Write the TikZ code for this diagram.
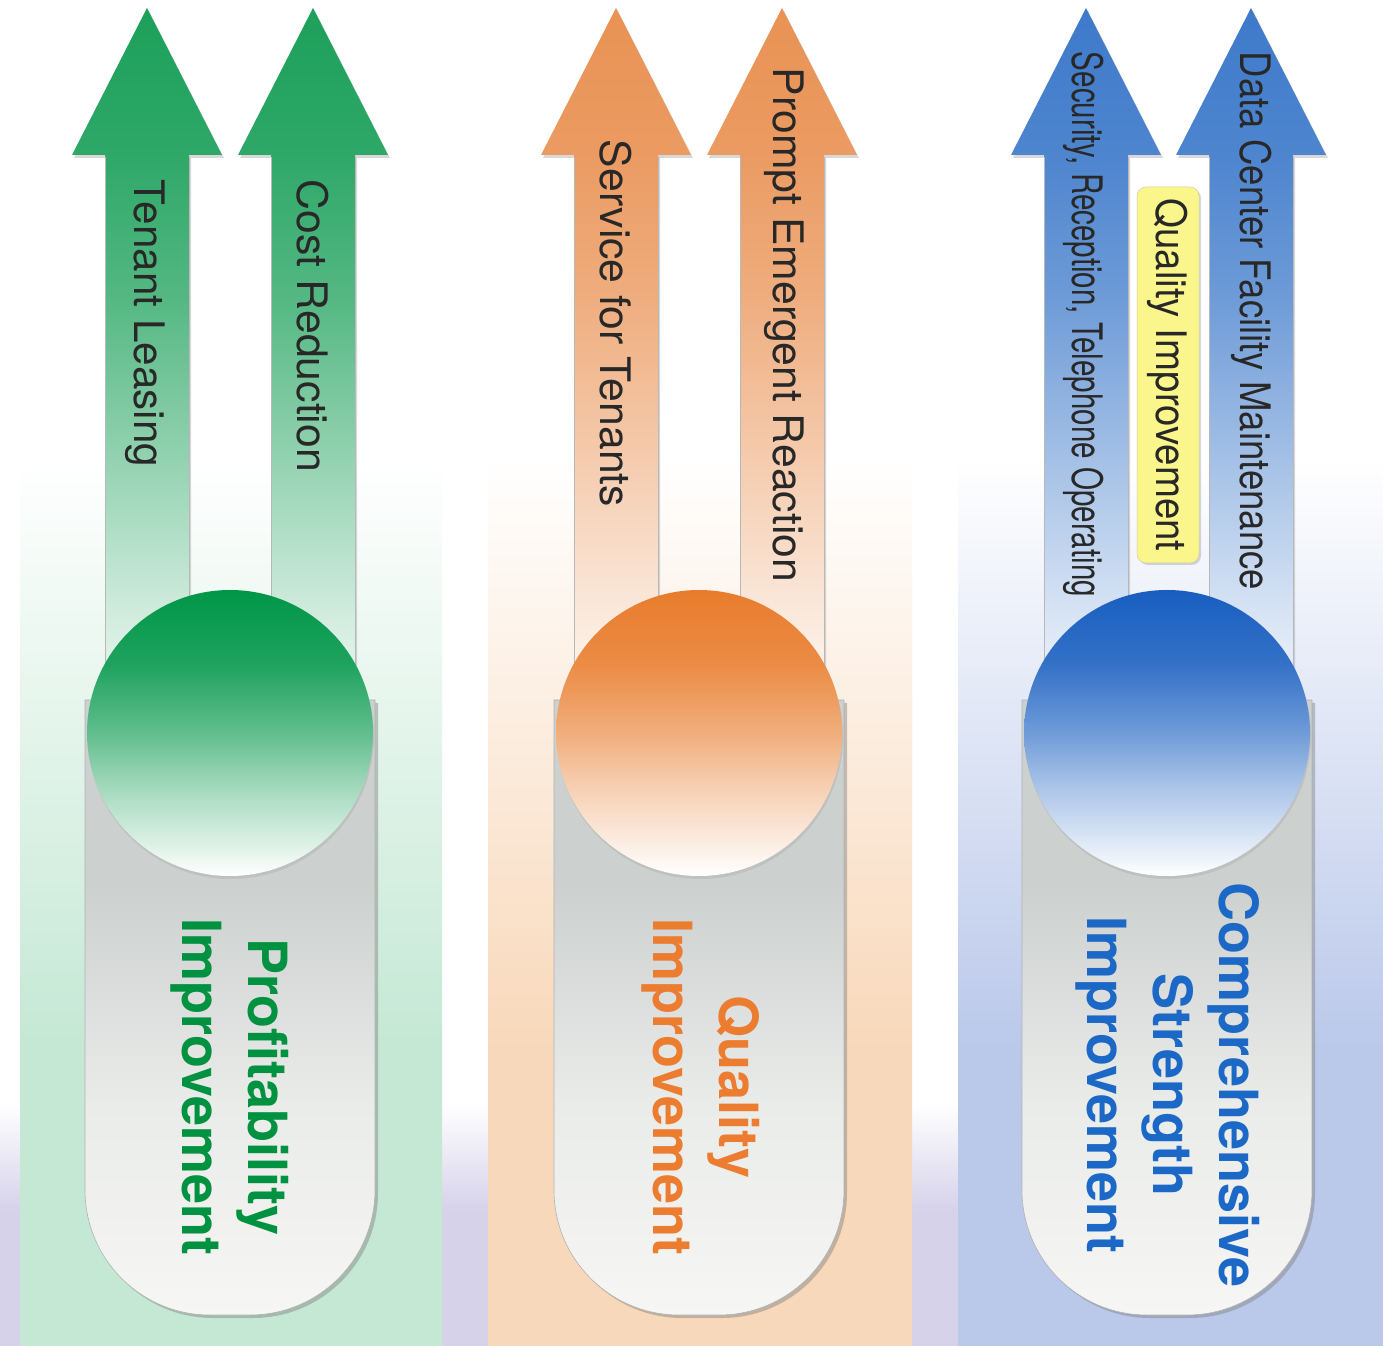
\documentclass[tikz,border=0pt]{standalone}
\usepackage{fontspec}
\setmainfont{TeX Gyre Heros}
\usepackage{graphicx}
\usetikzlibrary{shadows}

\definecolor{gA}{RGB}{28,160,90}
\definecolor{gC}{RGB}{0,150,72}
\definecolor{gT}{RGB}{0,146,64}
\definecolor{gB}{RGB}{196,232,212}
\definecolor{oA}{RGB}{233,146,84}
\definecolor{oC}{RGB}{232,124,44}
\definecolor{oT}{RGB}{236,124,48}
\definecolor{oB}{RGB}{248,216,186}
\definecolor{bA}{RGB}{62,122,202}
\definecolor{bC}{RGB}{24,94,192}
\definecolor{bT}{RGB}{28,104,198}
\definecolor{bB}{RGB}{186,200,234}
\definecolor{lav}{RGB}{214,210,234}
\definecolor{pillTop}{RGB}{204,208,206}
\definecolor{pillMid}{RGB}{234,236,234}
\definecolor{pillBot}{RGB}{246,246,244}
\definecolor{ylw}{RGB}{250,246,140}
\definecolor{lblc}{RGB}{40,40,40}

\newcommand\mkcolshades[1]{%
\pgfdeclareverticalshading{#1band}{100bp}{color(0bp)=(#1B); color(36bp)=(#1B); color(58bp)=(white); color(100bp)=(white)}%
\pgfdeclareverticalshading{#1arrow}{100bp}{color(0bp)=(#1A!12); color(31bp)=(#1A!15); color(34bp)=(#1A!22); color(45bp)=(#1A!50); color(55bp)=(#1A!75); color(65bp)=(#1A!92); color(75bp)=(#1A); color(100bp)=(#1A)}%
\pgfdeclareverticalshading{#1circ}{100bp}{color(0bp)=(white); color(25bp)=(white); color(30bp)=(#1C!12); color(40bp)=(#1C!35); color(50bp)=(#1C!62); color(62bp)=(#1C!88); color(75bp)=(#1C); color(100bp)=(#1C)}%
}
\mkcolshades{g}\mkcolshades{o}\mkcolshades{b}
\pgfdeclareverticalshading{bgshade}{100bp}{color(0bp)=(lav); color(30bp)=(lav); color(34bp)=(white); color(100bp)=(white)}
\pgfdeclareverticalshading{pill}{100bp}{color(0bp)=(pillBot); color(25bp)=(pillBot); color(42bp)=(pillMid); color(60bp)=(pillTop); color(100bp)=(pillTop)}

\newcommand\uparrowat[1]{(#1,1337) -- ({#1+75},1190) -- ({#1+42},1190) -- ({#1+42},610) -- ({#1-42},610) -- ({#1-42},1190) -- ({#1-75},1190) -- cycle}
\newcommand\shaftedges[1]{\draw[shaftedge] ({#1-42},1188) -- ({#1-42},612); \draw[shaftedge] ({#1+42},1188) -- ({#1+42},612);}
\newcommand\pillpath{(-145,645) -- (-145,155) arc[start angle=180, end angle=270, radius=125] -- (20,30) arc[start angle=270, end angle=360, radius=125] -- (145,645) -- cycle}

\begin{document}
\begin{tikzpicture}[x=1pt,y=1pt,
  lbl/.style={text=lblc, font=\fontsize{42}{50}\selectfont, rotate=-90, inner sep=0pt},
  mainlbl/.style={font=\fontsize{54}{66}\selectfont\bfseries, rotate=-90, align=center, inner sep=0pt},
  arrowsh/.style={drop shadow={shadow xshift=2pt, shadow yshift=-3pt, opacity=.3}},
  shaftedge/.style={draw=black!28, line width=.8pt},
  pillsh/.style={shading=pill, draw=black!30, line width=.6pt, drop shadow={shadow xshift=3pt, shadow yshift=-3pt, opacity=.45}},
  circsh/.style={drop shadow={shadow xshift=1pt, shadow yshift=-3pt, opacity=.18}},
  qbox/.style={fill=ylw, draw=ylw!70!black!60, line width=.5pt, rounded corners=9pt, rotate=-90, minimum width=376pt, minimum height=62pt, inner sep=0pt, text=lblc, font=\fontsize{42}{50}\selectfont, drop shadow={shadow xshift=2pt, shadow yshift=-2pt, opacity=.3}}]
\useasboundingbox (0,0) rectangle (1383,1345);
\path[shading=bgshade] (0,0) rectangle (1383,1345);

% green column
\begin{scope}[xshift=230pt]
  \path[shading=gband] (-210,0) rectangle (212,1345);
  \path[shading=garrow, arrowsh] \uparrowat{-83};
  \path[shading=garrow, arrowsh] \uparrowat{83};
  \shaftedges{-83}\shaftedges{83}
  \path[pillsh] \pillpath;
  \path[shading=gcirc, circsh] (0,612) circle[radius=143];
  \node[lbl] (gL) at (-85,1021.5) {\resizebox{287pt}{\height}{Tenant Leasing}};
  \node[lbl] (gR) at (83,1019) {\resizebox{292pt}{\height}{Cost Reduction}};
  \node[mainlbl, text=gT] (gM) at (0,258) {Profitability\\Improvement};
\end{scope}

% orange column
\begin{scope}[xshift=699pt]
  \path[shading=oband] (-211,0) rectangle (213,1345);
  \path[shading=oarrow, arrowsh] \uparrowat{-83};
  \path[shading=oarrow, arrowsh] \uparrowat{83};
  \shaftedges{-83}\shaftedges{83}
  \path[pillsh] \pillpath;
  \path[shading=ocirc, circsh] (0,612) circle[radius=143];
  \node[lbl] (oL) at (-83,1021.5) {\resizebox{367pt}{\height}{Service for Tenants}};
  \node[lbl] (oR) at (85,1020) {\resizebox{514pt}{\height}{Prompt Emergent Reaction}};
  \node[mainlbl, text=oT] (oM) at (2,258) {Quality\\Improvement};
\end{scope}

% blue column
\begin{scope}[xshift=1167pt]
  \path[shading=bband] (-209,0) rectangle (216,1345);
  \path[shading=barrow, arrowsh] \uparrowat{-81};
  \path[shading=barrow, arrowsh] \uparrowat{84};
  \shaftedges{-81}\shaftedges{84}
  \node[qbox] (bQ) at (1,970) {\resizebox{353pt}{\height}{Quality Improvement}};
  \path[pillsh] \pillpath;
  \path[shading=bcirc, circsh] (0,612) circle[radius=143];
  \node[lbl] (bL) at (-83,1020.5) {\resizebox{545pt}{\height}{Security, Reception, Telephone Operating}};
  \node[lbl] (bR) at (85,1024) {\resizebox{538pt}{\height}{Data Center Facility Maintenance}};
  \node[mainlbl, text=bT] (bM) at (1,260) {Comprehensive\\Strength\\Improvement};
\end{scope}
\end{tikzpicture}
\end{document}
